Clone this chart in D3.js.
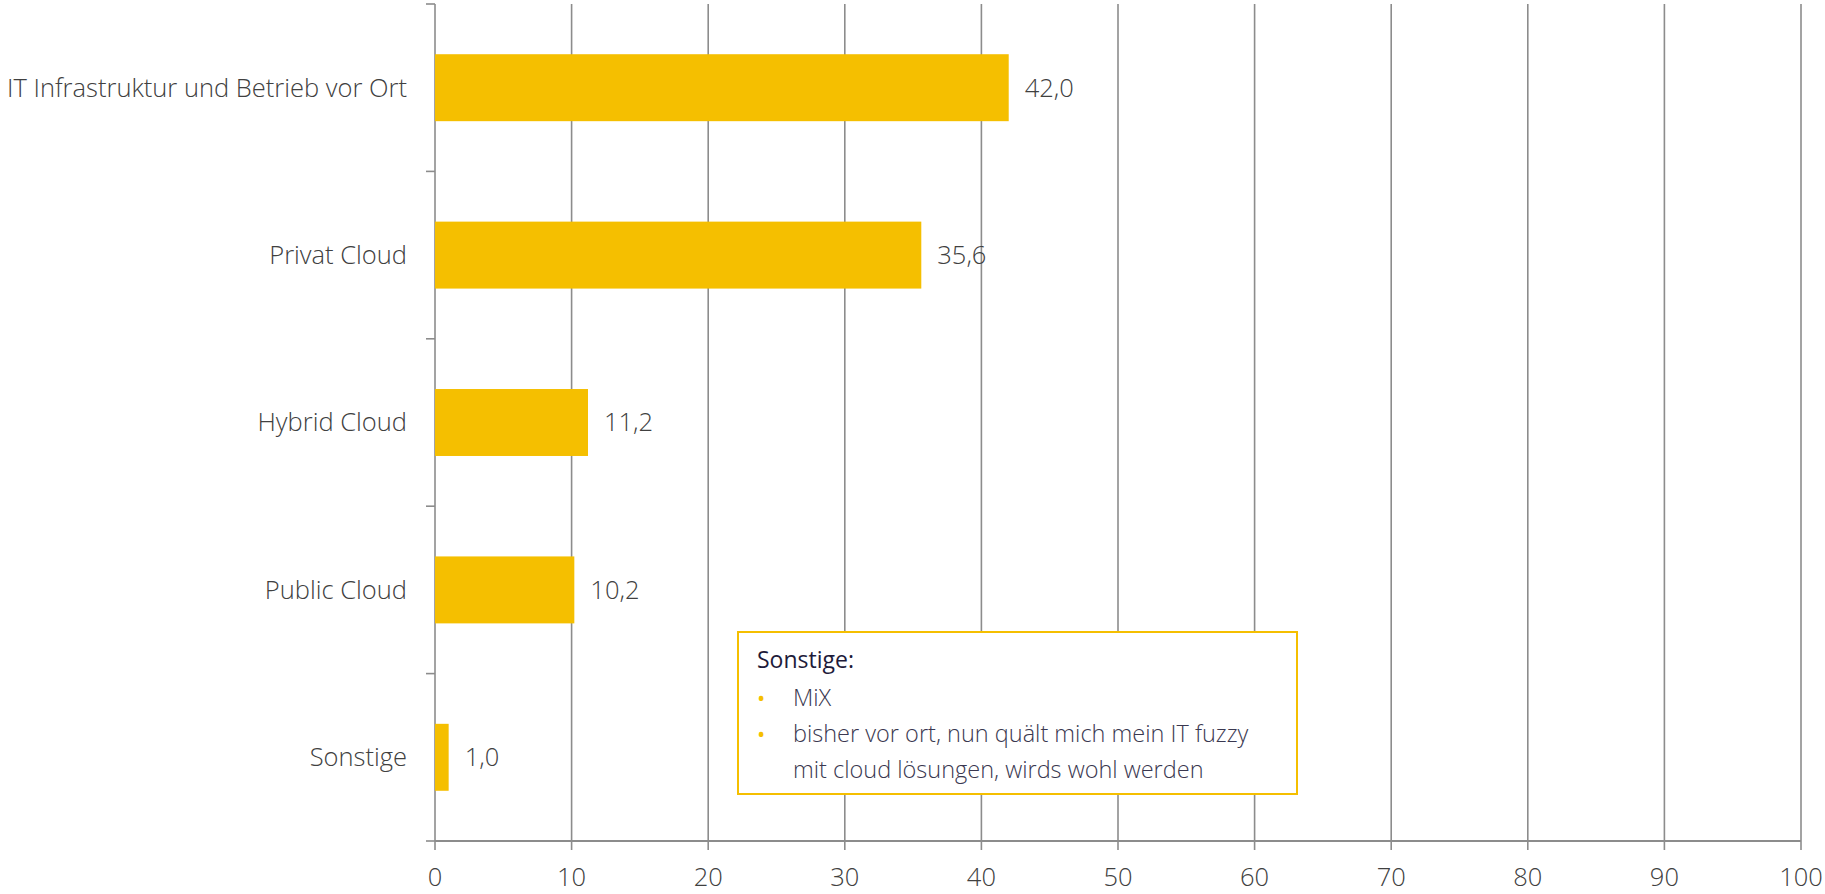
<!DOCTYPE html>
<html>
<head>
<meta charset="utf-8">
<script src="https://cdn.jsdelivr.net/npm/d3@7"></script>
<style>
  html, body { margin: 0; padding: 0; background: #ffffff; }
  svg { display: block; }
  text { font-family: "Open Sans", "Noto Sans", sans-serif; }
</style>
</head>
<body>
<svg id="chart" width="1825" height="894"></svg>
<script>
// ---- data ----
const categories = [
  "IT Infrastruktur und Betrieb vor Ort",
  "Privat Cloud",
  "Hybrid Cloud",
  "Public Cloud",
  "Sonstige"
];
const values = [42.0, 35.6, 11.2, 10.2, 1.0];
const xTicks = [0, 10, 20, 30, 40, 50, 60, 70, 80, 90, 100];
const noteTitle = "Sonstige:";
const noteItems = [
  ["MiX"],
  ["bisher vor ort, nun quält mich mein IT fuzzy", "mit cloud lösungen, wirds wohl werden"]
];

// ---- layout ----
const plotLeft = 435, plotRight = 1801, plotTop = 4, plotBottom = 841;
const gridColor = "#8c8c8c";
const barColor = "#f5bf00";
const labelColor = "#404040";
const labelSize = 25.5;

const svg = d3.select("#chart");
const x = d3.scaleLinear().domain([0, 100]).range([plotLeft, plotRight]);
const y = d3.scaleBand().domain(categories).range([plotTop, plotBottom])
  .paddingInner(0.6).paddingOuter(0.3);

const deLocale = d3.formatLocale({decimal: ",", thousands: ".", grouping: [3], currency: ["", " €"]});
const fmt = deLocale.format(".1f");

// vertical grid lines (extend below axis as ticks)
svg.append("g").selectAll("line").data(xTicks).join("line")
  .attr("x1", d => x(d)).attr("x2", d => x(d))
  .attr("y1", plotTop).attr("y2", plotBottom + 9)
  .attr("stroke", gridColor).attr("stroke-width", 1.6);

// y axis ticks at band boundaries
const boundaries = d3.range(categories.length + 1).map(i => plotTop + i * (plotBottom - plotTop) / categories.length);
svg.append("g").selectAll("line").data(boundaries).join("line")
  .attr("x1", plotLeft - 9).attr("x2", plotLeft)
  .attr("y1", d => d).attr("y2", d => d)
  .attr("stroke", gridColor).attr("stroke-width", 1.6);

// x axis line
svg.append("line")
  .attr("x1", plotLeft).attr("x2", plotRight)
  .attr("y1", plotBottom).attr("y2", plotBottom)
  .attr("stroke", gridColor).attr("stroke-width", 2);

// bars
svg.append("g").selectAll("rect").data(values).join("rect")
  .attr("x", x(0))
  .attr("y", (d, i) => y(categories[i]))
  .attr("width", d => x(d) - x(0))
  .attr("height", y.bandwidth())
  .attr("fill", barColor);

// value labels
svg.append("g").selectAll("text").data(values).join("text")
  .attr("x", d => x(d) + 16)
  .attr("y", (d, i) => y(categories[i]) + y.bandwidth() / 2)
  .attr("dy", "0.35em")
  .attr("font-size", labelSize).attr("font-weight", 300)
  .attr("fill", labelColor)
  .text(d => fmt(d));

// category labels
svg.append("g").selectAll("text").data(categories).join("text")
  .attr("x", plotLeft - 28)
  .attr("y", d => y(d) + y.bandwidth() / 2)
  .attr("dy", "0.35em")
  .attr("text-anchor", "end")
  .attr("font-size", labelSize).attr("font-weight", 300)
  .attr("fill", labelColor)
  .text(d => d);

// x tick labels
svg.append("g").selectAll("text").data(xTicks).join("text")
  .attr("x", d => x(d))
  .attr("y", 877)
  .attr("dy", "0.35em")
  .attr("text-anchor", "middle")
  .attr("font-size", labelSize).attr("font-weight", 300)
  .attr("fill", labelColor)
  .text(d => d);

// note box
const box = svg.append("g");
box.append("rect")
  .attr("x", 738).attr("y", 632).attr("width", 559).attr("height", 162)
  .attr("fill", "#ffffff").attr("stroke", barColor).attr("stroke-width", 2);
box.append("text")
  .attr("x", 757).attr("y", 660).attr("dy", "0.35em")
  .attr("font-size", 23).attr("font-weight", 400)
  .attr("fill", "#1e1b3a")
  .text(noteTitle);
let ly = 698;
noteItems.forEach(lines => {
  box.append("text")
    .attr("x", 757).attr("y", ly).attr("dy", "0.35em")
    .attr("font-size", 22).attr("fill", barColor)
    .text("•");
  lines.forEach(line => {
    box.append("text")
      .attr("x", 793).attr("y", ly).attr("dy", "0.35em")
      .attr("font-size", 23.5).attr("font-weight", 300)
      .attr("fill", "#3a3850")
      .text(line);
    ly += 36;
  });
});
</script>
</body>
</html>
